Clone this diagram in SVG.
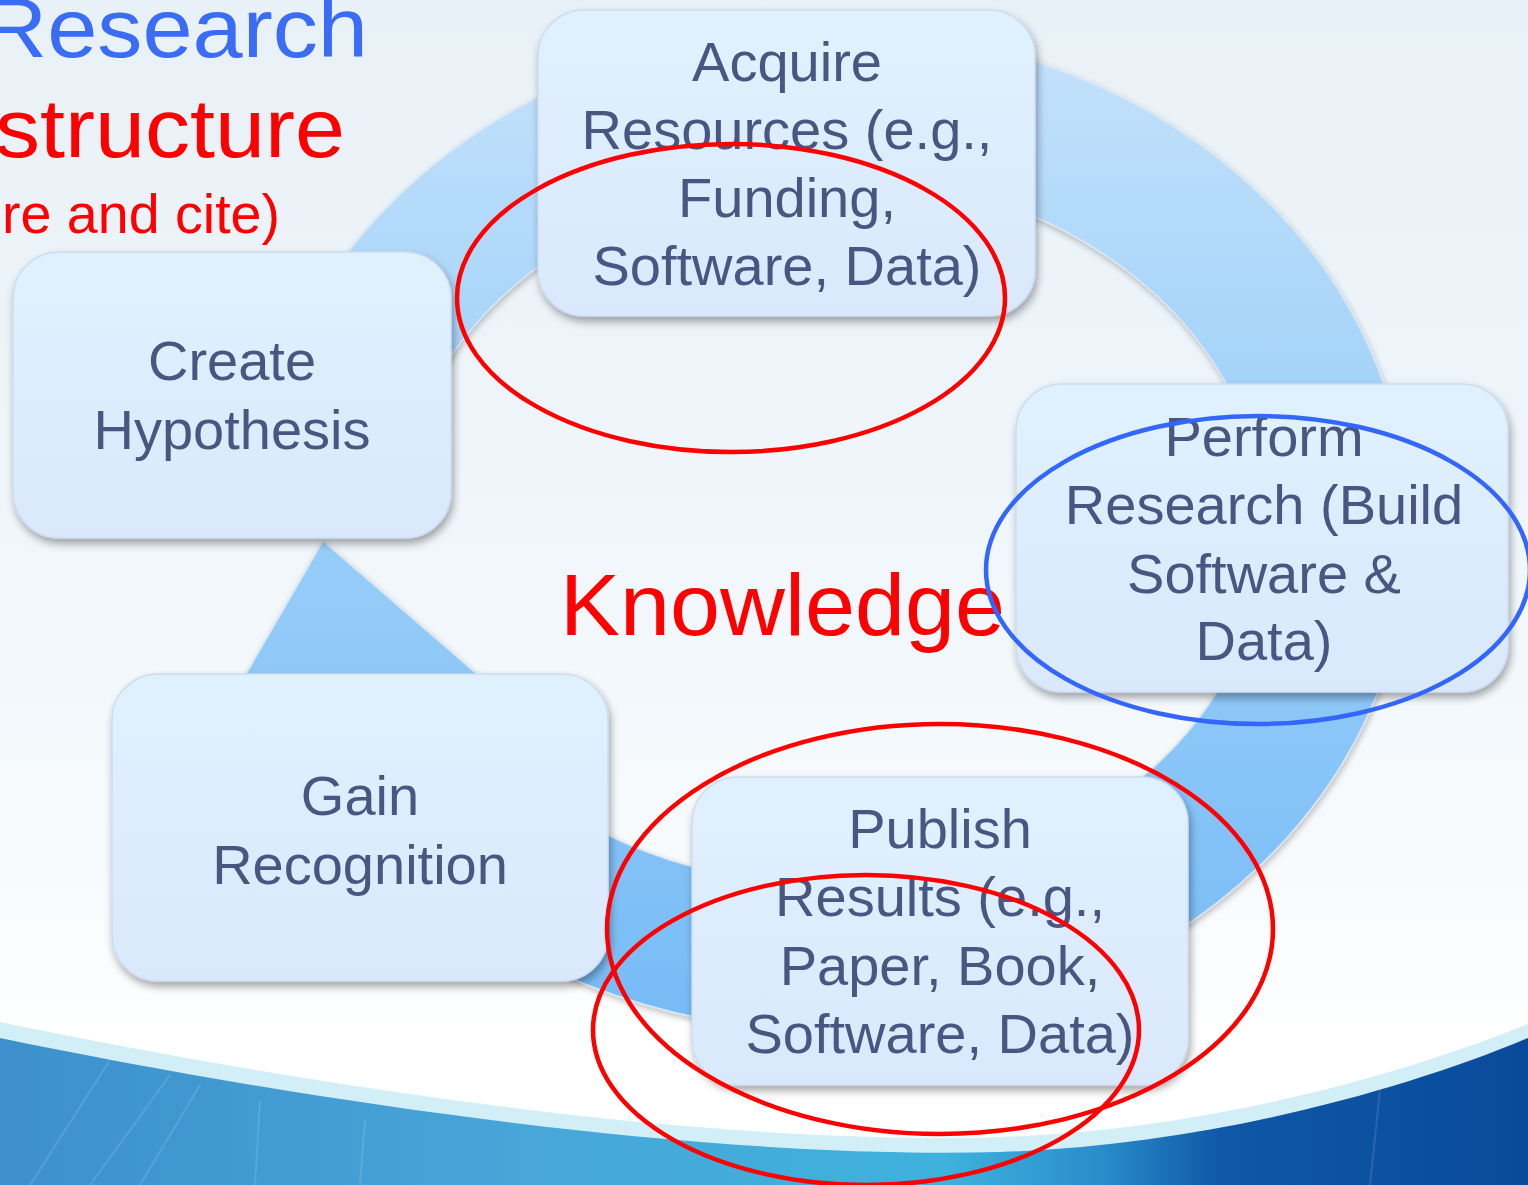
<svg xmlns="http://www.w3.org/2000/svg" width="1528" height="1185" viewBox="0 0 1528 1185">
<style>
.node rect{fill:url(#nodeGrad);stroke:#cddbef;stroke-width:1.5;filter:url(#shadow)}
.node text{font-family:"Liberation Sans",Arial,sans-serif;font-size:56px;fill:#4a5682;text-anchor:middle}
.title{font-family:"Liberation Sans",Arial,sans-serif}
.mark{fill:none;stroke-width:4.5}
</style>
<defs>
<linearGradient id="bg" x1="0" y1="0" x2="0" y2="1185" gradientUnits="userSpaceOnUse">
<stop offset="0" stop-color="#e8f1f7"/>
<stop offset="0.5" stop-color="#f1f7fb"/>
<stop offset="0.8" stop-color="#fafcfe"/>
<stop offset="0.88" stop-color="#ffffff"/>
</linearGradient>
<linearGradient id="ringGrad" x1="0" y1="30" x2="0" y2="1030" gradientUnits="userSpaceOnUse">
<stop offset="0" stop-color="#c4e2fb"/>
<stop offset="0.45" stop-color="#9ccff9"/>
<stop offset="1" stop-color="#76bbf6"/>
</linearGradient>
<linearGradient id="nodeGrad" x1="0" y1="0" x2="0" y2="1">
<stop offset="0" stop-color="#e0f1fe"/>
<stop offset="1" stop-color="#dae8fc"/>
</linearGradient>
<linearGradient id="wave" x1="0" y1="0" x2="1528" y2="0" gradientUnits="userSpaceOnUse">
<stop offset="0" stop-color="#3d90cc"/>
<stop offset="0.35" stop-color="#48a6d9"/>
<stop offset="0.62" stop-color="#3db2dc"/>
<stop offset="0.72" stop-color="#2a8dcb"/>
<stop offset="0.8" stop-color="#0f57a7"/>
<stop offset="1" stop-color="#0a4a9b"/>
</linearGradient>
<filter id="shadow" x="-10%" y="-10%" width="125%" height="130%">
<feGaussianBlur in="SourceAlpha" stdDeviation="4"/>
<feOffset dx="2" dy="5" result="b"/>
<feComponentTransfer><feFuncA type="linear" slope="0.35"/></feComponentTransfer>
<feMerge><feMergeNode/><feMergeNode in="SourceGraphic"/></feMerge>
</filter>
<filter id="ringShadow" x="-10%" y="-10%" width="120%" height="120%">
<feGaussianBlur in="SourceAlpha" stdDeviation="3"/>
<feOffset dx="1" dy="3"/>
<feComponentTransfer><feFuncA type="linear" slope="0.25"/></feComponentTransfer>
<feMerge><feMergeNode/><feMergeNode in="SourceGraphic"/></feMerge>
</filter>
<clipPath id="ringClip">
<path clip-rule="evenodd" d="M0,0H1528V1185H0Z M0,470H480V676H0Z"/>
</clipPath>
</defs>

<g id="background">
<rect width="1528" height="1185" fill="url(#bg)"/>
<path d="M0,1022 C300,1084 700,1146 1000,1137 C1200,1131 1400,1076 1528,1024 L1528,1185 L0,1185 Z" fill="#d2eef6"/>
<path d="M0,1038 C300,1100 700,1160 1000,1152 C1200,1146 1400,1092 1528,1038 L1528,1185 L0,1185 Z" fill="url(#wave)"/>
<g stroke="#ffffff" stroke-opacity="0.12" stroke-width="2">
<line x1="30" y1="1185" x2="110" y2="1060"/>
<line x1="90" y1="1185" x2="170" y2="1075"/>
<line x1="140" y1="1185" x2="200" y2="1085"/>
<line x1="255" y1="1185" x2="260" y2="1100"/>
<line x1="360" y1="1185" x2="365" y2="1120"/>
<line x1="1370" y1="1185" x2="1380" y2="1090"/>
</g>
</g>

<g id="connectors">
<g filter="url(#ringShadow)">
<path clip-path="url(#ringClip)" fill="url(#ringGrad)" fill-rule="evenodd" stroke="#d9e5f4" stroke-width="1.5" d="M251,530 A579,501 0 1,0 1409,530 A579,501 0 1,0 251,530 Z M395,530 A435,355 0 1,0 1265,530 A435,355 0 1,0 395,530 Z"/>
<path fill="url(#ringGrad)" stroke="#d9e5f4" stroke-width="1.5" d="M323,541 L507,700 L231,700 Z"/>
</g>
</g>

<g id="node-acquire" class="node">
<rect x="538" y="10" width="497" height="306" rx="46"/>
<text x="787" y="81">Acquire</text>
<text x="787" y="149">Resources (e.g.,</text>
<text x="787" y="217">Funding,</text>
<text x="787" y="285">Software, Data)</text>
</g>
<g id="node-create" class="node">
<rect x="13" y="252" width="438" height="286" rx="46"/>
<text x="232" y="380">Create</text>
<text x="232" y="449">Hypothesis</text>
</g>
<g id="node-perform" class="node">
<rect x="1016" y="384" width="492" height="308" rx="46"/>
<text x="1264" y="456">Perform</text>
<text x="1264" y="524">Research (Build</text>
<text x="1264" y="593">Software &amp;</text>
<text x="1264" y="660">Data)</text>
</g>
<g id="node-gain" class="node">
<rect x="112" y="674" width="496" height="307" rx="46"/>
<text x="360" y="815">Gain</text>
<text x="360" y="884">Recognition</text>
</g>
<g id="node-publish" class="node">
<rect x="692" y="777" width="496" height="308" rx="46"/>
<text x="940" y="848">Publish</text>
<text x="940" y="916">Results (e.g.,</text>
<text x="940" y="985">Paper, Book,</text>
<text x="940" y="1053">Software, Data)</text>
</g>

<g id="titles">
<text class="title" x="-18" y="57" font-size="84" fill="#3b6cf5" textLength="386" lengthAdjust="spacingAndGlyphs">Research</text>
<text class="title" x="-5" y="157" font-size="84" fill="#ff0000" textLength="350" lengthAdjust="spacingAndGlyphs">structure</text>
<text class="title" x="2" y="233" font-size="55" fill="#ff0000" textLength="278" lengthAdjust="spacingAndGlyphs">re and cite)</text>
<text class="title" x="560" y="635" font-size="88" fill="#ff0000" textLength="445" lengthAdjust="spacingAndGlyphs">Knowledge</text>
</g>

<g id="annotations">
<ellipse class="mark" cx="731" cy="298" rx="274" ry="154" stroke="#ff0000"/>
<ellipse class="mark" cx="1258" cy="570" rx="272" ry="154" stroke="#3366ff"/>
<ellipse class="mark" cx="940" cy="929" rx="333" ry="205" stroke="#ff0000"/>
<ellipse class="mark" cx="866" cy="1030" rx="273" ry="155" stroke="#ff0000"/>
</g>
</svg>
